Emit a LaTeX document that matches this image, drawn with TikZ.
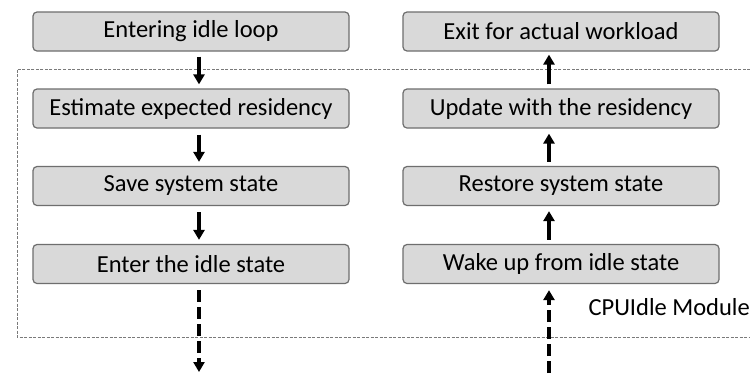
\documentclass[tikz,border=0pt]{standalone}
\usepackage{fontspec}
\setmainfont{Carlito}
\usetikzlibrary{arrows.meta}
\definecolor{boxfill}{HTML}{D9D9D9}
\definecolor{boxline}{HTML}{6E6E6E}
\definecolor{framegray}{HTML}{7A7A7A}
\tikzset{
  label font/.style={font=\fontsize{24.5}{28}\selectfont},
  stepbox/.style={draw=boxline, fill=boxfill, line width=1.2pt, rounded corners=4pt,
    minimum width=316pt, minimum height=39pt, inner sep=0pt, label font},
  flow/.style={line width=3.4pt, -{Triangle[length=10pt,width=11pt]}},
  flowdash/.style={flow, dash pattern=on 12pt off 5pt},
  module/.style={draw=framegray, line width=0.8pt, dash pattern=on 3pt off 1.5pt}
}
\begin{document}
\begin{tikzpicture}[x=1pt,y=-1pt]
\useasboundingbox (0,0) rectangle (750,373);
\fill[white] (0,0) rectangle (750,373);

% CPUIdle module frame (open to the right)
\draw[module] (750,69) -- (17,69) -- (17,337) -- (750,337);
\node[anchor=west, label font] (lbl) at (585,307) {CPUIdle Module};

% left column: entry path
\node[stepbox] (enter) at (191,31.5) {Entering idle loop};
\node[stepbox] (est)   at (191,108.5) {Estimate expected residency};
\node[stepbox] (save)  at (191,186) {Save system state};
\node[stepbox] (idle)  at (191,264) {Enter the idle state};

% right column: exit path
\node[stepbox] (exit)  at (561,31.5) {Exit for actual workload};
\node[stepbox] (upd)   at (561,108.5) {Update with the residency};
\node[stepbox] (rest)  at (561,186) {Restore system state};
\node[stepbox] (wake)  at (561,264) {Wake up from idle state};

\coordinate (downend) at (199,372);
\coordinate (upstart) at (549,373);

\draw[flow] ([xshift=8pt,yshift=-5pt]enter.south) -- ([xshift=8pt,yshift=4pt]est.north);
\draw[flow] ([xshift=8pt,yshift=-6pt]est.south) -- ([xshift=8pt,yshift=4pt]save.north);
\draw[flow] ([xshift=8pt,yshift=-6pt]save.south) -- ([xshift=8pt,yshift=4pt]idle.north);
\draw[flowdash] ([xshift=8pt,yshift=-6pt]idle.south) -- (downend);

\draw[flow] ([xshift=-12pt,yshift=4pt]upd.north) -- ([xshift=-12pt,yshift=-3pt]exit.south);
\draw[flow] ([xshift=-12pt,yshift=4pt]rest.north) -- ([xshift=-12pt,yshift=-5pt]upd.south);
\draw[flow] ([xshift=-12pt,yshift=4pt]wake.north) -- ([xshift=-12pt,yshift=-5pt]rest.south);
\draw[flowdash] (upstart) -- ([xshift=-12pt,yshift=-6pt]wake.south);
\end{tikzpicture}
\end{document}
